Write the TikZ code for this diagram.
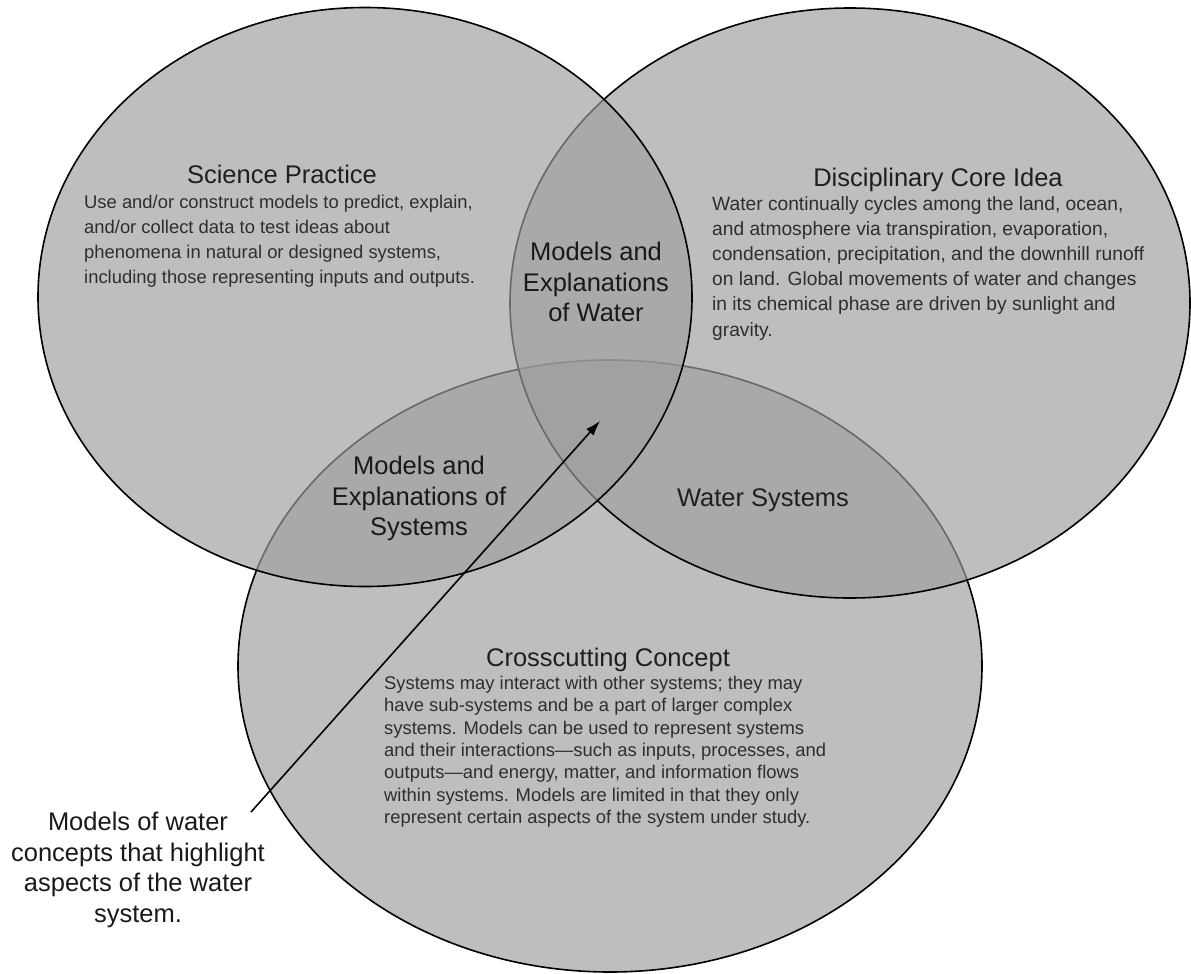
\documentclass[tikz,border=0pt]{standalone}
\usepackage{fontspec}
\setmainfont{Liberation Sans}
\usetikzlibrary{arrows.meta,shapes.geometric}
\begin{document}
\begin{tikzpicture}[x=1pt,y=-1pt,
  venn/.style={ellipse, inner sep=0pt, outer sep=0pt,
    fill={rgb,255:red,158;green,158;blue,158}, fill opacity=0.667,
    draw=black, draw opacity=1, line width=1.6pt},
  title/.style={font=\fontsize{25.5}{30.5}\selectfont, text=black!88, inner sep=0pt},
  lbl/.style={font=\fontsize{25.5}{30.5}\selectfont, text=black!90, align=center, inner sep=0pt, anchor=north},
  body/.style={font=\fontsize{18.4}{25}\selectfont, text=black!82, align=left, inner sep=0pt, anchor=north west},
  pointer/.style={draw=black, line width=1.6pt, -{Latex[length=15pt,width=10pt]}},
]
\useasboundingbox (0,0) rectangle (1191,974);
% circles (bottom first, then right, then left)
\node[venn, minimum width=744pt, minimum height=612pt] (cc) at (610,666) {};
\node[venn, minimum width=680pt, minimum height=590pt] (dci) at (850,303) {};
\node[venn, minimum width=654pt, minimum height=579pt] (sp) at (365,297) {};

% Science Practice
\node[title, anchor=base] (sptitle) at (282,183) {Science Practice};
\node[body] (spbody) at (84,195) {Use and/or construct models to predict, explain,\\
and/or collect data to test ideas about\\
phenomena in natural or designed systems,\\
including those representing inputs and outputs.};

% Disciplinary Core Idea
\node[title, anchor=base] (dcititle) at (938,186) {Disciplinary Core Idea};
\node[body, font=\fontsize{19.2}{25.2}\selectfont] (dcibody) at (712,196) {Water continually cycles among the land, ocean,\\
and atmosphere via transpiration, evaporation,\\
condensation, precipitation, and the downhill runoff\\
on land. Global movements of water and changes\\
in its chemical phase are driven by sunlight and\\
gravity.};

% Crosscutting Concept
\node[title, anchor=base] (cctitle) at (608,666) {Crosscutting Concept};
\node[body, font=\fontsize{18.4}{22.3}\selectfont] (ccbody) at (384,676) {Systems may interact with other systems; they may\\
have sub-systems and be a part of larger complex\\
systems. Models can be used to represent systems\\
and their interactions—such as inputs, processes, and\\
outputs—and energy, matter, and information flows\\
within systems. Models are limited in that they only\\
represent certain aspects of the system under study.};

% overlap labels
\node[lbl] (water) at (596,242) {Models and\\Explanations\\of Water};
\node[lbl] (systems) at (419,456) {Models and\\Explanations of\\Systems};
\node[title, anchor=base] (wsys) at (763,506) {Water Systems};

% note and arrow
\node[lbl] (note) at (138,812) {Models of water\\concepts that highlight\\aspects of the water\\system.};
\coordinate (tail) at (251,812);
\coordinate (tip) at (600,421);
\draw[pointer] (tail) -- (tip);
\end{tikzpicture}
\end{document}
